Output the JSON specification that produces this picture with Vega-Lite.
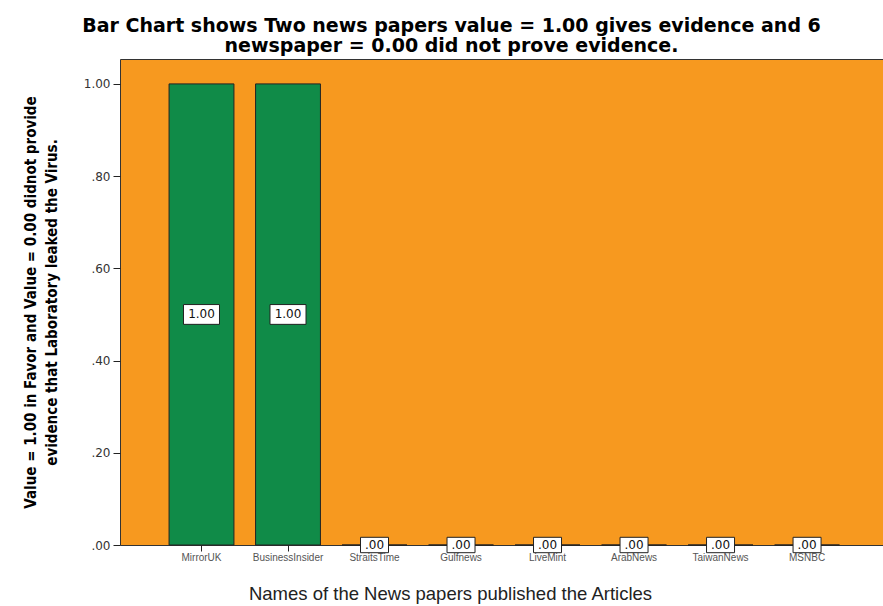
{
  "$schema": "https://vega.github.io/schema/vega-lite/v6.json",
  "autosize": {"type": "none"},
  "padding": {"left": 120, "top": 59, "right": 0, "bottom": 61},
  "width": 763,
  "height": 486,
  "background": "white",
  "title": {
    "text": ["Bar Chart shows Two news papers value = 1.00 gives evidence and 6", "newspaper = 0.00 did not prove evidence."],
    "font": "DejaVu Sans",
    "fontSize": 19,
    "fontWeight": "bold",
    "lineHeight": 20,
    "color": "black",
    "anchor": "middle",
    "dx": -50,
    "offset": 3
  },
  "config": {
    "view": {"fill": "#F7991F", "stroke": "#333333", "strokeWidth": 1}
  },
  "data": {
    "values": [
      {"paper": "MirrorUK", "value": 1},
      {"paper": "BusinessInsider", "value": 1},
      {"paper": "StraitsTime", "value": 0},
      {"paper": "Gulfnews", "value": 0},
      {"paper": "LiveMint", "value": 0},
      {"paper": "ArabNews", "value": 0},
      {"paper": "TaiwanNews", "value": 0},
      {"paper": "MSNBC", "value": 0}
    ]
  },
  "transform": [
    {"calculate": "datum.value / 2", "as": "mid"},
    {"calculate": "replace(format(datum.value, '.2f'), /^0\\./, '.')", "as": "label"}
  ],
  "encoding": {
    "x": {
      "field": "paper",
      "type": "nominal",
      "sort": null,
      "scale": {"paddingInner": 0.25, "paddingOuter": 0.535, "align": 0.53},
      "axis": {
        "title": "Names of the News papers published the Articles",
        "titleFont": "Liberation Sans",
        "titleFontSize": 18.5,
        "titleFontWeight": "normal",
        "titleColor": "#222222",
        "titleX": 330,
        "titleY": 39,
        "labelAngle": 0,
        "labelFont": "Liberation Sans",
        "labelFontSize": 10,
        "labelColor": "#555555",
        "labelPadding": 1,
        "domain": false,
        "tickColor": "#222222",
        "tickSize": 6,
        "grid": false
      }
    }
  },
  "layer": [
    {
      "mark": {"type": "bar", "fill": "#108B48", "stroke": "#222222", "strokeWidth": 1},
      "encoding": {
        "y": {
          "field": "value",
          "type": "quantitative",
          "scale": {"domain": [0, 1.054], "nice": false},
          "axis": {
            "title": ["Value = 1.00 in Favor and Value = 0.00 didnot provide", "evidence that Laboratory leaked the Virus."],
            "titleFont": "DejaVu Sans Condensed",
            "titleFontSize": 15,
            "titleFontWeight": "bold",
            "titleColor": "black",
            "titleLineHeight": 21,
            "titlePadding": 24,
            "values": [0, 0.2, 0.4, 0.6, 0.8, 1],
            "labelExpr": "replace(format(datum.value, '.2f'), /^0\\./, '.')",
            "labelFont": "DejaVu Sans",
            "labelFontSize": 12,
            "labelColor": "#333333",
            "labelPadding": 3,
            "domain": false,
            "tickColor": "#222222",
            "tickSize": 7,
            "grid": false
          }
        }
      }
    },
    {
      "mark": {"type": "point", "shape": "M-1,-0.55H1V0.55H-1Z", "filled": true, "fill": "white", "stroke": "#222222", "strokeWidth": 1, "opacity": 1},
      "encoding": {
        "y": {"field": "mid", "type": "quantitative"},
        "size": {"condition": {"test": "datum.value > 0", "value": 1296}, "value": 784}
      }
    },
    {
      "mark": {"type": "text", "font": "DejaVu Sans", "fontSize": 12, "color": "#111111", "baseline": "middle", "align": "center"},
      "encoding": {
        "y": {"field": "mid", "type": "quantitative"},
        "text": {"field": "label"}
      }
    }
  ]
}
